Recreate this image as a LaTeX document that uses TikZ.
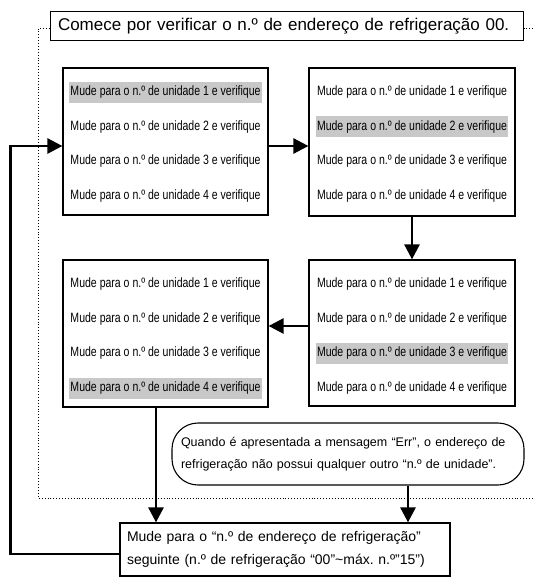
\documentclass[tikz,border=0pt]{standalone}
\usepackage{fontspec}
\setmainfont{Liberation Sans}
\newfontfamily\narrowf[FakeStretch=0.78]{Liberation Sans}
\usetikzlibrary{arrows.meta}
\definecolor{hl}{RGB}{200,200,200}
\frenchspacing
\begin{document}
\begin{tikzpicture}[x=1pt,y=-1pt,
  box/.style={draw, line width=1.2pt, inner sep=0pt},
  unit/.style={font=\narrowf\fontsize{13.5}{13.5}\selectfont, inner xsep=1pt, inner ysep=0pt, minimum height=21pt},
  sel/.style={unit, fill=hl},
  arr/.style={line width=2.6pt, -{Triangle[length=15pt,width=15pt]}},
  dotline/.style={line width=0.9pt, dash pattern=on 0.9pt off 2pt}]
\useasboundingbox (0,0) rectangle (532,577);

% dotted frame
\coordinate (dR) at (532,498);
\node[draw, line width=1pt, inner xsep=8pt, inner ysep=0pt, text width=457pt, minimum height=29pt, align=left,
  font=\fontsize{17}{17}\selectfont] (top) at (286.5,26.5) {\mbox{Comece por verificar o n.º de endereço de refrigeração 00.}};
\draw[dotline] ([yshift=-1.5pt]top.west) -- ++(-11,0) |- (dR);
\draw[dotline] ([yshift=-1.5pt]top.east) -- ++(10,0);

% boxes
\node[box, minimum width=205pt, minimum height=147pt] (b1) at (165.5,141.5) {};
\node[box, minimum width=206pt, minimum height=148pt] (b2) at (412,142) {};
\node[box, minimum width=205pt, minimum height=147pt] (b3) at (165.5,333.5) {};
\node[box, minimum width=206pt, minimum height=146pt] (b4) at (412,333) {};

\foreach \n/\y in {1/92.5,2/127,3/161.5,4/196}{
  \ifnum\n=1 \node[sel] (b1u\n) at (165.5,\y) {Mude para o n.º de unidade \n\ e verifique};
  \else \node[unit] (b1u\n) at (165.5,\y) {Mude para o n.º de unidade \n\ e verifique}; \fi
  \ifnum\n=2 \node[sel] (b2u\n) at (412,\y) {Mude para o n.º de unidade \n\ e verifique};
  \else \node[unit] (b2u\n) at (412,\y) {Mude para o n.º de unidade \n\ e verifique}; \fi
}
\foreach \n/\y in {1/284.5,2/319,3/353.5,4/388}{
  \ifnum\n=4 \node[sel] (b3u\n) at (165.5,\y) {Mude para o n.º de unidade \n\ e verifique};
  \else \node[unit] (b3u\n) at (165.5,\y) {Mude para o n.º de unidade \n\ e verifique}; \fi
  \ifnum\n=3 \node[sel] (b4u\n) at (412,\y) {Mude para o n.º de unidade \n\ e verifique};
  \else \node[unit] (b4u\n) at (412,\y) {Mude para o n.º de unidade \n\ e verifique}; \fi
}

% callout
\node[draw, line width=1.1pt, rounded corners=26pt, text width=334pt, inner xsep=9pt, inner ysep=0pt,
  minimum height=62pt, align=left, font=\fontsize{12.5}{22}\selectfont] (c) at (348,454)
  {\mbox{Quando é apresentada a mensagem “Err”, o endereço de}\\\mbox{refrigeração não possui qualquer outro “n.º de unidade”.}};

% bottom box
\node[box, text width=316pt, inner xsep=7pt, inner ysep=0pt, minimum height=53pt, align=left,
  font=\fontsize{14}{23}\selectfont] (b5) at (285,549.5)
  {\mbox{Mude para o “n.º de endereço de refrigeração”}\\\mbox{seguinte (n.º de refrigeração “00”{\char"7E}máx. n.º”15”)}};

% arrows
\draw[arr] ([yshift=-4.5pt]b1.east) -- ([yshift=-4pt]b2.west);
\draw[arr] (b2.south) -- (b4.north);
\draw[arr] ([yshift=7pt]b4.west) -- ([yshift=7.5pt]b3.east);
\draw[arr] ([xshift=-9.5pt]b3.south) -- ([xshift=-9.5pt]b3.south |- b5.north);
\draw[arr] ([xshift=60pt]c.south) -- ([xshift=60pt]c.south |- b5.north);
\draw[arr] ([yshift=-4.5pt]b5.west) -- ++(-109,0) |- ([yshift=-4.5pt]b1.west);
\end{tikzpicture}
\end{document}
